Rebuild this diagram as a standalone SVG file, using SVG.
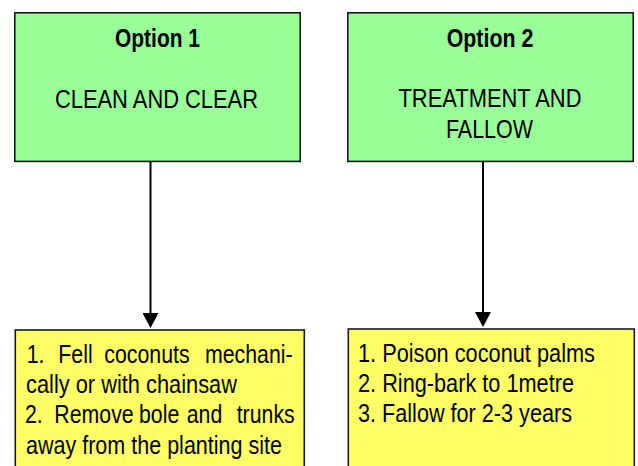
<svg xmlns="http://www.w3.org/2000/svg" width="638" height="466" viewBox="0 0 638 466">
<style>
.g{fill:#99FF99;stroke:#1a1a1a;stroke-width:1.6}
.y{fill:#FFFF66;stroke:#1a1a1a;stroke-width:1.6}
text{font-family:"Liberation Sans",Arial,sans-serif;font-size:26px;fill:#000}
.c{text-anchor:middle}
.b{font-weight:bold}
.e{stroke:#000;stroke-width:2;fill:none}
</style>
<defs>
<marker id="ah" markerWidth="15" markerHeight="16" refX="5" refY="8" orient="auto" markerUnits="userSpaceOnUse" viewBox="0 0 15 16">
<path d="M0,0 L15,8 L0,16 Z" fill="#000"/>
</marker>
</defs>
<g id="opt1">
<rect class="g" x="14.8" y="12.8" width="285.4" height="148.6"/>
<g transform="scale(0.82,1)">
<text class="c b" x="192.07" y="47" textLength="103.7" lengthAdjust="spacingAndGlyphs">Option 1</text>
<text class="c" x="190.85" y="108" textLength="247.6" lengthAdjust="spacingAndGlyphs">CLEAN AND CLEAR</text>
</g>
</g>
<g id="opt2">
<rect class="g" x="347.8" y="12.8" width="285.4" height="148.6"/>
<g transform="scale(0.82,1)">
<text class="c b" x="597.56" y="47" textLength="105.7" lengthAdjust="spacingAndGlyphs">Option 2</text>
<text class="c" x="597.56" y="107" textLength="223.2" lengthAdjust="spacingAndGlyphs">TREATMENT AND</text>
<text class="c" x="596.9" y="138" textLength="106.1" lengthAdjust="spacingAndGlyphs">FALLOW</text>
</g>
</g>
<g id="steps1">
<rect class="y" x="15.3" y="330" width="289" height="150"/>
<g transform="scale(0.82,1)">
<text y="363"><tspan x="32.56">1.</tspan> <tspan x="71.1">Fell</tspan> <tspan x="127.2">coconuts</tspan> <tspan x="250">mechani-</tspan></text>
<text x="31.71" y="393" textLength="257.3" lengthAdjust="spacingAndGlyphs">cally or with chainsaw</text>
<text y="423"><tspan x="30.49">2.</tspan> <tspan x="66.22">Remove</tspan> <tspan x="169.5">bole</tspan> <tspan x="227.68">and</tspan> <tspan x="288.66">trunks</tspan></text>
<text x="31.71" y="454" textLength="312.2" lengthAdjust="spacingAndGlyphs">away from the planting site</text>
</g>
</g>
<g id="steps2">
<rect class="y" x="348.3" y="329" width="286" height="150"/>
<g transform="scale(0.82,1)">
<text x="436.6" y="362" textLength="289" lengthAdjust="spacingAndGlyphs">1. Poison coconut palms</text>
<text x="436.6" y="392" textLength="263.4" lengthAdjust="spacingAndGlyphs">2. Ring-bark to 1metre</text>
<text x="436.6" y="422" textLength="261" lengthAdjust="spacingAndGlyphs">3. Fallow for 2-3 years</text>
</g>
</g>
<g id="connectors">
<line class="e" x1="150.5" y1="162" x2="150.5" y2="318" marker-end="url(#ah)"/>
<line class="e" x1="483" y1="162" x2="483" y2="317" marker-end="url(#ah)"/>
</g>
</svg>
